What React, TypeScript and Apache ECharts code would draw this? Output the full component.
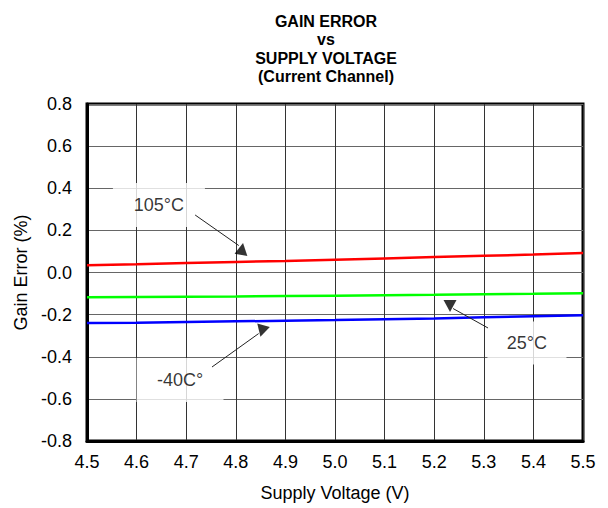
import React, { useEffect, useRef } from "react";
import * as echarts from "echarts";

const voltages = [4.5, 4.6, 4.7, 4.8, 4.9, 5.0, 5.1, 5.2, 5.3, 5.4, 5.5];
const err105 = [0.034, 0.039, 0.045, 0.05, 0.055, 0.061, 0.067, 0.073, 0.079, 0.085, 0.092];
const err25 = [-0.117, -0.116, -0.115, -0.114, -0.112, -0.11, -0.108, -0.106, -0.103, -0.101, -0.098];
const errM40 = [-0.24, -0.238, -0.235, -0.232, -0.229, -0.226, -0.222, -0.218, -0.213, -0.208, -0.203];

const titleLines = ["GAIN ERROR", "vs", "SUPPLY VOLTAGE", "(Current Channel)"];
const xName = "Supply Voltage (V)";
const yName = "Gain Error (%)";

// annotation labels: [x, y] centre in data units, text, box size
const labelTexts = ["105°C", "25°C", "-40C°"];
const labelPos = [
  [4.645, 0.32],
  [5.387, -0.335],
  [4.6875, -0.51],
];
const labelBox = [
  [92, 44],
  [79, 43],
  [87, 44],
];
// arrows: start (near label) -> end (near curve)
const arrowLines = [
  [[4.718, 0.273], [4.806, 0.128]],
  [[5.3085, -0.2635], [5.238, -0.171]],
  [[4.752, -0.4487], [4.846, -0.29]],
];
const arrowHeads = [
  [4.8125, 0.112],
  [5.2319, -0.159],
  [4.8528, -0.278],
];
const arrowRot = [-10, 180, 165];

const FONT = "'Liberation Sans', Arial, sans-serif";

export default function App() {
  const ref = useRef<HTMLDivElement>(null);
  useEffect(() => {
    if (!ref.current) return;
    const chart = echarts.init(ref.current, undefined, { renderer: "svg" });
    const mk = (ys: number[]) => voltages.map((v, i) => [v, ys[i]]);
    chart.setOption({
      animation: false,
      backgroundColor: "#fff",
      title: {
        text: titleLines.join("\n"),
        left: 321,
        top: 7,
        textAlign: "center",
        textStyle: {
          fontFamily: FONT,
          fontWeight: "bold",
          fontSize: 16,
          lineHeight: 18.5,
          color: "#000",
        },
      },
      grid: {
        left: 87,
        right: 25,
        top: 104,
        bottom: 67,
        show: true,
        borderColor: "#000",
        borderWidth: 3,
        backgroundColor: "transparent",
      },
      xAxis: {
        type: "value",
        min: 4.5,
        max: 5.5,
        interval: 0.1,
        name: xName,
        nameLocation: "middle",
        nameGap: 43,
        nameTextStyle: { fontFamily: FONT, fontSize: 18, color: "#000" },
        axisLine: { show: true, onZero: false, lineStyle: { color: "#000", width: 3 } },
        axisTick: { show: false },
        axisLabel: {
          fontFamily: FONT,
          fontSize: 18,
          color: "#000",
          margin: 12,
          formatter: (v: number) => v.toFixed(1),
        },
        splitLine: { show: true, lineStyle: { color: "#333", width: 1 } },
      },
      yAxis: {
        type: "value",
        min: -0.8,
        max: 0.8,
        interval: 0.2,
        name: yName,
        nameLocation: "middle",
        nameGap: 53,
        nameTextStyle: { fontFamily: FONT, fontSize: 18, color: "#000" },
        axisLine: { show: true, onZero: false, lineStyle: { color: "#000", width: 3 } },
        axisTick: { show: false },
        axisLabel: {
          fontFamily: FONT,
          fontSize: 18,
          color: "#000",
          margin: 15,
          formatter: (v: number) => v.toFixed(1),
        },
        splitLine: { show: true, lineStyle: { color: "#666", width: 1 } },
      },
      series: [
        {
          name: "105°C",
          type: "line",
          data: mk(err105),
          showSymbol: false,
          lineStyle: { color: "#ff0000", width: 2.5 },
          z: 2,
        },
        {
          name: "25°C",
          type: "line",
          data: mk(err25),
          showSymbol: false,
          lineStyle: { color: "#00ff00", width: 2.5 },
          z: 2,
        },
        {
          name: "-40°C",
          type: "line",
          data: mk(errM40),
          showSymbol: false,
          lineStyle: { color: "#0000ff", width: 2.5 },
          z: 2,
        },
        {
          name: "labels",
          type: "scatter",
          z: 3,
          silent: true,
          data: labelPos.map((p, i) => ({
            value: p,
            symbol: "rect",
            symbolSize: labelBox[i],
            itemStyle: { color: "#fff" },
            label: {
              show: true,
              position: "inside",
              formatter: labelTexts[i],
              fontFamily: FONT,
              fontSize: 18,
              color: "#000",
            },
          })),
        },
        {
          name: "arrows",
          type: "lines",
          coordinateSystem: "cartesian2d",
          z: 4,
          silent: true,
          lineStyle: { color: "#222", width: 1, opacity: 1 },
          data: arrowLines.map((c) => ({ coords: c })),
        },
        {
          name: "heads",
          type: "scatter",
          z: 5,
          silent: true,
          data: arrowHeads.map((p, i) => ({
            value: p,
            symbol: "triangle",
            symbolSize: [13, 12],
            symbolRotate: arrowRot[i],
            itemStyle: { color: "#000" },
          })),
        },
      ],
    });
    return () => chart.dispose();
  }, []);
  return (
    <div
      ref={ref}
      style={{ position: "fixed", left: 0, top: 0, width: 608, height: 508 }}
    />
  );
}
